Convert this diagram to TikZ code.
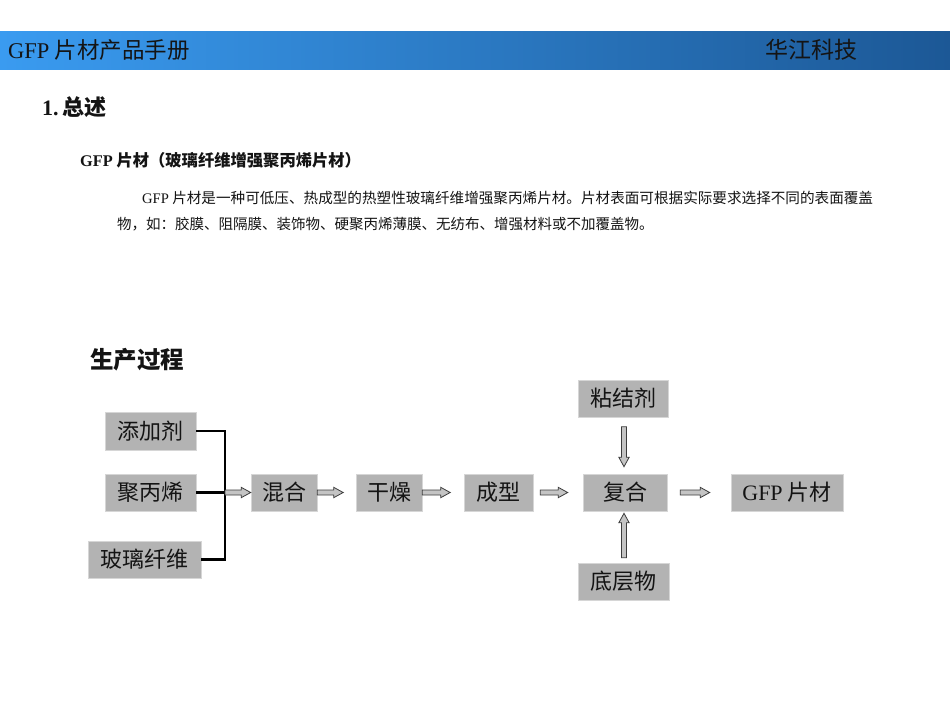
\documentclass[tikz,border=0pt]{standalone}
\usepackage{fontspec}
\setmainfont{Noto Sans CJK SC}
\newfontfamily\lat{Liberation Serif}
\usetikzlibrary{calc}
\definecolor{barL}{HTML}{3A9BF0}
\definecolor{barR}{HTML}{1C5896}
\definecolor{boxgray}{HTML}{B3B3B3}
\definecolor{boxline}{HTML}{D6D6D6}
\definecolor{arrfill}{HTML}{C4C4C4}
\definecolor{arrline}{HTML}{3C3C3C}
\definecolor{txt}{HTML}{141414}
\tikzset{
  ga/.store in=\arrgapA, gb/.store in=\arrgapB, ga=0pt, gb=0pt,
  box/.style={fill=boxgray, draw=boxline, line width=0.6pt, inner sep=0pt,
    text=txt, font=\fontsize{22}{26}\selectfont},
  joinline/.style={line width=2.6pt, draw=black},
  flow/.style={draw=arrline, fill=arrfill, line width=0.8pt, to path={
    let \p1=(\tikztostart), \p2=(\tikztotarget),
        \n1={atan2(\y2-\y1,\x2-\x1)}, \n2={veclen(\x2-\x1,\y2-\y1)} in
    {[shift={(\p1)}, rotate=\n1]
      (\arrgapA,-2.5pt) -- (\n2-\arrgapB-9.5pt,-2.5pt) -- (\n2-\arrgapB-9.5pt,-5.2pt)
      -- (\n2-\arrgapB,0pt) -- (\n2-\arrgapB-9.5pt,5.2pt) -- (\n2-\arrgapB-9.5pt,2.5pt)
      -- (\arrgapA,2.5pt) -- cycle}
  }},
  plain/.style={anchor=west, inner sep=0pt, text=txt}
}
\begin{document}
\begin{tikzpicture}[x=1pt,y=-1pt]
\useasboundingbox (0,0) rectangle (950,713);
\fill[white] (0,0) rectangle (950,713);
% header bar
\shade[left color=barL, right color=barR] (0,31) rectangle (950,69);
\node[plain, font=\fontsize{22.5}{24}\selectfont] (title) at (8,50) {{\lat GFP} 片材产品手册};
\node[plain, font=\fontsize{23}{24}\selectfont] (company) at (765,50) {华江科技};
% texts
\node[plain, font=\bfseries\fontsize{22}{24}\selectfont] (sec) at (42,107) {{\lat 1.\,}总述};
\node[plain, font=\bfseries\fontsize{16.3}{18}\selectfont] (sub) at (80,160) {{\lat GFP} 片材（玻璃纤维增强聚丙烯片材）};
\node[plain, font=\fontsize{14.6}{17}\selectfont] (p1) at (142,198) {{\lat GFP} 片材是一种可低压、热成型的热塑性玻璃纤维增强聚丙烯片材。片材表面可根据实际要求选择不同的表面覆盖};
\node[plain, font=\fontsize{14.5}{17}\selectfont] (p2) at (117,224) {物，如：胶膜、阻隔膜、装饰物、硬聚丙烯薄膜、无纺布、增强材料或不加覆盖物。};
\node[plain, font=\bfseries\fontsize{23.5}{26}\selectfont] (proc) at (90,360) {生产过程};
% boxes
\node[box, minimum width=91pt, minimum height=38pt] (tj) at (150.5,431) {添加剂};
\node[box, minimum width=91pt, minimum height=37pt] (jbx) at (150.5,492.5) {聚丙烯};
\node[box, minimum width=113pt, minimum height=37pt] (bl) at (144.5,559.5) {玻璃纤维};
\node[box, minimum width=66pt, minimum height=37pt] (hh) at (284,492.5) {混合};
\node[box, minimum width=66pt, minimum height=37pt] (gz) at (389,492.5) {干燥};
\node[box, minimum width=69pt, minimum height=37pt] (cx) at (498.5,492.5) {成型};
\node[box, minimum width=84pt, minimum height=37pt] (fh) at (625,492.5) {复合};
\node[box, minimum width=112pt, minimum height=37pt] (gfp) at (787,492.5) {{\lat GFP} 片材};
\node[box, minimum width=90pt, minimum height=37pt] (njj) at (623.5,398.5) {粘结剂};
\node[box, minimum width=91pt, minimum height=37pt] (dcw) at (623.5,581.5) {底层物};
% joining lines
\coordinate (J) at (225,492.5);
\draw[joinline] (tj.east) -| (J) |- (bl.east);
\draw[joinline] (jbx.east) -- (J);
% arrows
\draw[flow] (J) to (hh.west);
\draw[flow, gb=12.5pt] (hh.east) to (gz.west);
\draw[flow, gb=13.5pt] (gz.east) to (cx.west);
\draw[flow, ga=7pt, gb=15pt] (cx.east) to (fh.west);
\draw[flow, ga=13pt, gb=21pt] (fh.east) to (gfp.west);
\draw[flow, ga=9.5pt, gb=7pt] ($(njj.south)+(0.5,0)$) to ($(fh.north)+(-1,0)$);
\draw[flow, ga=5pt, gb=2pt] ($(dcw.north)+(0.5,0)$) to ($(fh.south)+(-1,0)$);
\end{tikzpicture}
\end{document}
